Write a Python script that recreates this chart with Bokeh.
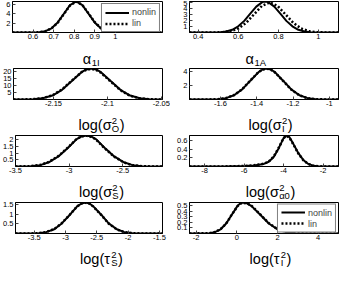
from bokeh.plotting import figure
from bokeh.layouts import column, row
from bokeh.models import Range1d, FixedTicker
from bokeh.core.properties import value
from bokeh.embed import file_html
from bokeh.resources import INLINE

FONT = "Liberation Sans"

# ---------------- data ----------------
a1I_x = [0.50, 0.60, 0.63, 0.66, 0.69, 0.72, 0.75, 0.78, 0.81, 0.84, 0.87, 0.90, 0.93, 0.96, 0.99, 1.05, 1.23]
a1I_nonlin = [0.00, 0.01, 0.07, 0.29, 0.91, 2.18, 4.06, 5.91, 6.70, 5.91, 4.06, 2.18, 0.91, 0.29, 0.07, 0.00, 0.00]
a1I_lin = [0.00, 0.01, 0.06, 0.27, 0.88, 2.12, 4.00, 5.85, 6.68, 5.95, 4.12, 2.24, 0.95, 0.31, 0.08, 0.00, 0.00]
a1I_xticks = [0.6, 0.7, 0.8, 0.9, 1.0]
a1I_xlabels = ["0.6", "0.7", "0.8", "0.9", "1"]
a1I_yticks = [2, 4, 6]
a1I_ylabels = ["2", "4", "6"]

a1A_x_nonlin = [0.357, 0.45, 0.48, 0.51, 0.54, 0.57, 0.60, 0.63, 0.66, 0.69, 0.72, 0.735, 0.75, 0.78, 0.81, 0.84, 0.87, 0.90, 0.93, 0.96, 0.99, 1.05, 1.10]
a1A_nonlin = [0.00, 0.004, 0.016, 0.058, 0.18, 0.46, 1.03, 1.95, 3.15, 4.34, 5.10, 5.20, 5.10, 4.34, 3.15, 1.95, 1.03, 0.46, 0.18, 0.058, 0.016, 0.001, 0.00]
a1A_x_lin = [0.357, 0.484, 0.523, 0.562, 0.601, 0.640, 0.679, 0.718, 0.757, 0.796, 0.835, 0.874, 0.913, 0.952, 0.991, 1.030, 1.10]
a1A_lin = [0.00, 0.011, 0.056, 0.22, 0.68, 1.64, 3.06, 4.46, 5.05, 4.46, 3.06, 1.64, 0.68, 0.22, 0.056, 0.011, 0.00]
a1A_xticks = [0.4, 0.6, 0.8, 1.0]
a1A_xlabels = ["0.4", "0.6", "0.8", "1"]
a1A_yticks = [1, 2, 3, 4, 5]
a1A_ylabels = ["1", "2", "3", "4", "5"]

sO_x = [-2.187, -2.178, -2.169, -2.160, -2.151, -2.142, -2.133, -2.124, -2.1195, -2.115, -2.1105, -2.106, -2.097, -2.088, -2.079, -2.070, -2.061, -2.052, -2.049]
sO_nonlin = [0.01, 0.04, 0.21, 0.89, 2.86, 7.04, 13.4, 19.8, 21.8, 22.5, 21.8, 19.8, 13.4, 7.04, 2.86, 0.89, 0.21, 0.04, 0.02]
sO_lin = [0.01, 0.05, 0.24, 0.96, 3.02, 7.30, 13.7, 19.8, 21.6, 22.2, 21.4, 19.4, 13.0, 6.80, 2.70, 0.83, 0.19, 0.04, 0.02]
sO_xticks = [-2.15, -2.1, -2.05]
sO_xlabels = ["-2.15", "-2.1", "-2.05"]
sO_yticks = [5, 10, 15, 20]
sO_ylabels = ["5", "10", "15", "20"]

sI_x = [-1.77, -1.66, -1.615, -1.57, -1.525, -1.48, -1.435, -1.39, -1.3675, -1.345, -1.3225, -1.30, -1.255, -1.21, -1.165, -1.12, -1.075, -1.03, -0.95]
sI_nonlin = [0.00, 0.01, 0.05, 0.19, 0.60, 1.43, 2.67, 3.88, 4.26, 4.40, 4.26, 3.88, 2.67, 1.43, 0.60, 0.19, 0.05, 0.01, 0.00]
sI_lin = [0.00, 0.01, 0.05, 0.20, 0.62, 1.46, 2.70, 3.90, 4.26, 4.38, 4.24, 3.85, 2.64, 1.41, 0.59, 0.18, 0.05, 0.01, 0.00]
sI_xticks = [-1.6, -1.4, -1.2, -1.0]
sI_xlabels = ["-1.6", "-1.4", "-1.2", "-1"]
sI_yticks = [2, 4]
sI_ylabels = ["2", "4"]

sS_x = [-3.50, -3.36, -3.27, -3.19, -3.10, -3.01, -2.93, -2.883, -2.84, -2.797, -2.75, -2.67, -2.58, -2.49, -2.41, -2.32, -2.23, -2.13]
sS_nonlin = [0.002, 0.026, 0.10, 0.31, 0.75, 1.39, 2.03, 2.23, 2.30, 2.23, 2.03, 1.39, 0.75, 0.31, 0.10, 0.026, 0.005, 0.001]
sS_lin = [0.002, 0.028, 0.11, 0.33, 0.78, 1.42, 2.05, 2.24, 2.29, 2.21, 2.00, 1.36, 0.73, 0.30, 0.10, 0.025, 0.005, 0.001]
sS_xticks = [-3.5, -3.0, -2.5]
sS_xlabels = ["-3.5", "-3", "-2.5"]
sS_yticks = [0.5, 1.0, 1.5, 2.0]
sS_ylabels = ["0.5", "1", "1.5", "2"]

sA0_x = [-8.76, -7.0, -6.0, -5.5, -5.0, -4.75, -4.5, -4.25, -4.0, -3.85, -3.7, -3.5, -3.25, -3.0, -2.75, -2.5, -2.25, -2.0, -1.22]
sA0_nonlin = [0.0, 0.002, 0.010, 0.025, 0.06, 0.11, 0.22, 0.42, 0.66, 0.72, 0.68, 0.52, 0.31, 0.15, 0.06, 0.02, 0.006, 0.002, 0.0]
sA0_lin = [0.0, 0.002, 0.011, 0.027, 0.064, 0.115, 0.23, 0.43, 0.66, 0.71, 0.67, 0.51, 0.30, 0.145, 0.058, 0.02, 0.006, 0.002, 0.0]
sA0_xticks = [-8, -6, -4, -2]
sA0_xlabels = ["-8", "-6", "-4", "-2"]
sA0_yticks = [0.2, 0.4, 0.6]
sA0_ylabels = ["0.2", "0.4", "0.6"]

tS_x = [-3.80, -3.55, -3.43, -3.31, -3.18, -3.06, -2.93, -2.81, -2.7425, -2.68, -2.6175, -2.56, -2.43, -2.31, -2.18, -2.06, -1.93, -1.81, -1.45]
tS_nonlin = [0.00, 0.004, 0.018, 0.07, 0.22, 0.52, 0.97, 1.41, 1.55, 1.60, 1.55, 1.41, 0.97, 0.52, 0.22, 0.07, 0.018, 0.004, 0.00]
tS_lin = [0.00, 0.004, 0.019, 0.072, 0.23, 0.53, 0.98, 1.41, 1.55, 1.59, 1.54, 1.40, 0.96, 0.51, 0.21, 0.068, 0.017, 0.004, 0.00]
tS_xticks = [-3.5, -3.0, -2.5, -2.0, -1.5]
tS_xlabels = ["-3.5", "-3", "-2.5", "-2", "-1.5"]
tS_yticks = [0.5, 1.0, 1.5]
tS_ylabels = ["0.5", "1", "1.5"]

tI_x = [-2.33, -1.35, -1.08, -0.80, -0.525, -0.25, 0.025, 0.15, 0.30, 0.50, 0.725, 1.15, 1.575, 2.0, 2.425, 2.85, 3.5, 5.0]
tI_nonlin = [0.0, 0.006, 0.025, 0.076, 0.18, 0.34, 0.494, 0.54, 0.56, 0.545, 0.494, 0.34, 0.18, 0.076, 0.025, 0.006, 0.001, 0.0]
tI_lin = [0.0, 0.006, 0.026, 0.078, 0.18, 0.34, 0.49, 0.535, 0.555, 0.545, 0.50, 0.345, 0.185, 0.08, 0.027, 0.007, 0.001, 0.0]
tI_xticks = [-2, 0, 2, 4]
tI_xlabels = ["-2", "0", "2", "4"]
tI_yticks = [0.1, 0.2, 0.3, 0.4, 0.5]
tI_ylabels = ["0.1", "0.2", "0.3", "0.4", "0.5"]

series_names = ["nonlin", "lin"]

# ---------------- layout / style helpers ----------------
CW = {"l": 0.222, "o": 0.556, "g": 0.556, "(": 0.333, ")": 0.333, "σ": 0.60,
      "τ": 0.45, "α": 0.58, "O": 0.778, "I": 0.278, "S": 0.667, "A": 0.667,
      "0": 0.556, "1": 0.556, "2": 0.556}


def tw(s, size):
    return sum(CW.get(c, 0.556) for c in s) * size


TOP = 1
FRAME_H = 31
BOTTOM = 10
PH = TOP + FRAME_H + BOTTOM
LH = 25

COLS = [dict(W=170, BL=12, BR=8), dict(W=169, BL=19, BR=1)]


def label_fig(col, main, sup, sub, close, dx, main_size, small_size, y_base, sup_dy, sub_dy):
    c = COLS[col]
    W = c["W"]
    fw = W - c["BL"] - c["BR"]
    cx = c["BL"] + fw / 2 + dx
    lf = figure(width=W, height=LH, x_range=Range1d(0, W), y_range=Range1d(0, LH),
                output_backend="svg", toolbar_location=None, min_border=0,
                x_axis_location=None, y_axis_location=None, outline_line_color=None)
    lf.xgrid.visible = False
    lf.ygrid.visible = False
    w_main = tw(main, main_size)
    w_small = max(tw(sup, small_size), tw(sub, small_size)) + 1
    w_close = tw(close, main_size)
    x0 = cx - (w_main + w_small + w_close) / 2
    common = dict(text_font=value(FONT), text_color="black",
                  text_align="left", text_baseline="alphabetic")
    lf.text(x=[x0], y=[y_base], text=[main], text_font_size=value(f"{main_size}px"), **common)
    if close:
        lf.text(x=[x0 + w_main + w_small], y=[y_base], text=[close],
                text_font_size=value(f"{main_size}px"), **common)
    if sup:
        lf.text(x=[x0 + w_main + 0.5], y=[y_base + sup_dy], text=[sup],
                text_font_size=value(f"{small_size}px"), **common)
    if sub:
        lf.text(x=[x0 + w_main + 0.5], y=[y_base - sub_dy], text=[sub],
                text_font_size=value(f"{small_size}px"), **common)
    return lf


def make_panel(col, xs_nl, y_nl, xs_l, y_l, xr, yr, xt, xl, yt, yl, legend=None):
    c = COLS[col]
    p = figure(width=c["W"], height=PH, x_range=Range1d(*xr), y_range=Range1d(*yr),
               output_backend="svg", toolbar_location=None,
               min_border_left=c["BL"], min_border_right=c["BR"],
               min_border_top=TOP, min_border_bottom=BOTTOM)
    p.xgrid.visible = False
    p.ygrid.visible = False
    p.outline_line_color = "black"
    p.outline_line_width = 1
    for ax, ticks, labels in ((p.xaxis[0], xt, xl), (p.yaxis[0], yt, yl)):
        ax.ticker = FixedTicker(ticks=ticks)
        ax.major_label_overrides = {t: s for t, s in zip(ticks, labels)}
        ax.major_tick_in = 3
        ax.major_tick_out = 0
        ax.minor_tick_line_color = None
        ax.axis_line_color = "black"
        ax.major_tick_line_color = "#444444"
        ax.major_label_text_font = FONT
        ax.major_label_text_font_size = "7.5px"
        ax.major_label_text_color = "black"
        ax.major_label_standoff = 2
    p.xaxis[0].major_label_standoff = 1
    kw_nl = dict(line_color="black", line_width=2)
    kw_l = dict(line_color="black", line_width=2.5, line_dash="2 2")
    if legend:
        kw_nl["legend_label"] = series_names[0]
        kw_l["legend_label"] = series_names[1]
    p.line(xs_nl, y_nl, **kw_nl)
    p.line(xs_l, y_l, **kw_l)
    if legend:
        lg = p.legend[0]
        lg.location = legend
        lg.label_text_font = FONT
        lg.label_text_font_size = "9px"
        lg.label_height = 9
        lg.glyph_height = 9
        lg.glyph_width = 24
        lg.spacing = 1
        lg.padding = 3
        lg.margin = 2
        lg.label_standoff = 3
        lg.border_line_color = "black"
        lg.border_line_width = 1
        lg.background_fill_alpha = 1
    return p


LOG = (14.5, 9.5, 10.0, 3.3, 4.4)
ALPHA = (14.5, 9.5, 8.5, 0, 3.2)

p1 = make_panel(0, a1I_x, a1I_nonlin, a1I_x, a1I_lin, (0.50, 1.23), (0, 6.7),
                a1I_xticks, a1I_xlabels, a1I_yticks, a1I_ylabels, legend="top_right")
p2 = make_panel(1, a1A_x_nonlin, a1A_nonlin, a1A_x_lin, a1A_lin, (0.357, 1.10), (0, 5.2),
                a1A_xticks, a1A_xlabels, a1A_yticks, a1A_ylabels)
p3 = make_panel(0, sO_x, sO_nonlin, sO_x, sO_lin, (-2.187, -2.049), (0, 22.5),
                sO_xticks, sO_xlabels, sO_yticks, sO_ylabels)
p4 = make_panel(1, sI_x, sI_nonlin, sI_x, sI_lin, (-1.77, -0.95), (0, 4.4),
                sI_xticks, sI_xlabels, sI_yticks, sI_ylabels)
p5 = make_panel(0, sS_x, sS_nonlin, sS_x, sS_lin, (-3.50, -2.13), (0, 2.3),
                sS_xticks, sS_xlabels, sS_yticks, sS_ylabels)
p6 = make_panel(1, sA0_x, sA0_nonlin, sA0_x, sA0_lin, (-8.76, -1.22), (0, 0.72),
                sA0_xticks, sA0_xlabels, sA0_yticks, sA0_ylabels)
p7 = make_panel(0, tS_x, tS_nonlin, tS_x, tS_lin, (-3.80, -1.45), (0, 1.6),
                tS_xticks, tS_xlabels, tS_yticks, tS_ylabels)
p8 = make_panel(1, tI_x, tI_nonlin, tI_x, tI_lin, (-2.33, 5.0), (0, 0.56),
                tI_xticks, tI_xlabels, tI_yticks, tI_ylabels, legend="right")

l1 = label_fig(0, "α", "", "1I", "", 4, *ALPHA)
l2 = label_fig(1, "α", "", "1A", "", -8, *ALPHA)
l3 = label_fig(0, "log(σ", "2", "O", ")", 14, *LOG)
l4 = label_fig(1, "log(σ", "2", "I", ")", 6.5, *LOG)
l5 = label_fig(0, "log(σ", "2", "S", ")", 14, *LOG)
l6 = label_fig(1, "log(σ", "2", "α0", ")", 6.5, *LOG)
l7 = label_fig(0, "log(τ", "2", "S", ")", 14, *LOG)
l8 = label_fig(1, "log(τ", "2", "I", ")", 6.5, *LOG)

layout = column(
    row(p1, p2, spacing=0), row(l1, l2, spacing=0),
    row(p3, p4, spacing=0), row(l3, l4, spacing=0),
    row(p5, p6, spacing=0), row(l5, l6, spacing=0),
    row(p7, p8, spacing=0), row(l7, l8, spacing=0),
    spacing=0,
)

open("out.html", "w").write(file_html(layout, INLINE))
